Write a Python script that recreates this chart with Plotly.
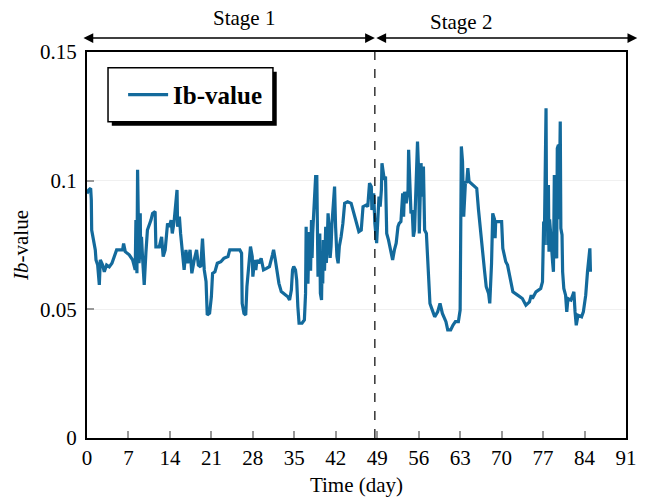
import plotly.graph_objects as go

days = [0.0, 0.28, 0.62, 0.73, 0.79, 1.07, 1.40, 1.52, 1.80, 2.08, 2.25, 2.64, 2.92, 3.31, 3.76, 4.21, 4.61, 5.00,
        6.01, 6.18, 6.46, 7.13, 7.70, 8.14, 8.26, 8.34, 8.43, 8.54, 8.62, 8.71, 8.78, 8.85, 8.92, 8.99, 9.05, 9.20,
        9.40, 9.66, 9.94, 10.2, 10.8,
        11.07, 11.5, 11.63, 12.2, 12.6, 12.86, 13.2, 13.6, 13.9, 14.2, 14.4, 14.7, 15.0, 15.2, 15.3, 15.6, 15.8,
        16.1, 16.4, 16.7, 17.0, 17.4, 17.7, 18.1, 18.5, 18.8, 19.2, 19.5, 19.8, 20.1, 20.2, 20.3, 20.7, 21.0, 21.2,
        21.6, 22.0, 22.6, 23.1, 23.8, 24.1, 25.8, 26.1, 26.2, 26.5, 26.8, 27.0, 27.4, 27.6, 27.9, 28.0, 28.3, 28.5,
        28.7, 29.0, 29.4, 29.8, 30.3, 30.8, 31.3, 31.5, 31.8, 32.1, 32.4, 32.8, 33.4, 33.9, 34.2, 34.5, 34.7, 34.9,
        35.2, 35.4, 35.6, 35.8, 36.3, 36.7, 36.9, 37.0, 37.1, 37.2, 37.3, 37.4, 37.5, 37.6, 37.75, 37.9, 38.0, 38.1,
        38.25, 38.4, 38.6, 38.8, 38.9, 39.0,
        39.1, 39.3, 39.4, 39.6, 39.7, 39.8, 39.9, 40.1, 40.3, 40.4, 40.5, 40.7, 40.9, 41.05, 41.2, 41.35, 41.5, 41.8,
        41.97, 42.2, 42.4, 42.6, 42.9,
        43.2, 43.5, 44.0, 44.6, 44.9, 45.4, 45.9, 46.3, 46.6, 47.1, 47.4, 47.7, 48.0, 48.1, 48.4, 48.6, 48.8, 48.9,
        49.1, 49.3, 49.5, 49.7, 49.8, 50.0, 50.2, 50.4, 50.5, 50.6, 50.9, 51.3, 51.6, 51.9, 52.2, 52.5, 52.7, 53.0,
        53.3, 53.45, 53.6, 53.9, 54.2, 54.3, 54.5, 54.7, 54.9, 55.1, 55.3, 55.6, 55.8, 56.0, 56.1, 56.4, 56.6, 56.8,
        57.0,
        57.3, 57.5, 57.7, 57.9, 58.3, 58.7, 59.2, 59.6, 60.0, 60.3, 60.6, 60.9, 61.4, 61.8, 62.2, 62.7, 63.0, 63.2,
        63.4, 63.6, 63.9, 64.1, 64.3, 64.5, 64.8, 65.4, 65.8, 66.1, 66.5, 66.8, 67.1, 67.4, 67.8, 68.0, 68.3, 68.5,
        68.8, 68.9, 69.0, 69.6, 70.0, 70.2, 70.7, 71.0, 71.3, 71.6, 71.9, 72.7, 73.5, 74.1, 74.7, 75.0, 75.2, 75.8,
        76.6, 76.9, 77.1, 77.2, 77.4, 77.5, 77.6, 77.7, 77.8, 77.9, 78.0, 78.1, 78.3, 78.45, 78.6, 78.75, 78.9, 79.1,
        79.3, 79.4, 79.6, 79.7, 79.9,
        80.0, 80.2, 80.3, 80.5, 80.8, 81.0, 81.2, 81.7, 82.0, 82.2, 82.4, 82.6, 82.9, 83.5, 83.8, 84.2, 84.5, 84.7,
        84.9, 85.0]

ib_value = [0.0950, 0.0964, 0.0970, 0.0925, 0.0808, 0.0770, 0.0731, 0.0692, 0.0672, 0.0595, 0.0692, 0.0672, 0.0646,
            0.0672, 0.0665, 0.0679, 0.0705, 0.0731, 0.0731, 0.0756, 0.0724, 0.0712, 0.0692, 0.0653, 0.0847, 0.0700,
            0.0640, 0.1042, 0.0780, 0.0860, 0.0680, 0.0700, 0.0850, 0.0873, 0.0720, 0.0782,
            0.0692, 0.0595, 0.0718, 0.0808, 0.0847, 0.0873, 0.0880, 0.0743,
            0.0743, 0.0782, 0.0705, 0.0731, 0.0834, 0.0821, 0.0847, 0.0795, 0.0840, 0.0912, 0.0964, 0.0821, 0.0860,
            0.0795, 0.0705, 0.0653, 0.0731, 0.0679, 0.0731, 0.0640, 0.0692, 0.0731, 0.0672, 0.0665, 0.0775, 0.0653,
            0.0608, 0.0523, 0.0478, 0.0485, 0.0549, 0.0640, 0.0646, 0.0679, 0.0685, 0.0698, 0.0705, 0.0731, 0.0731,
            0.0718, 0.0523, 0.0484, 0.0478, 0.0588, 0.0718, 0.0744, 0.0705, 0.0627, 0.0692, 0.0653, 0.0692, 0.0679,
            0.0698, 0.0653, 0.0659, 0.0666, 0.0711, 0.0731, 0.0692, 0.0640, 0.0601, 0.0569, 0.0556, 0.0549, 0.0536,
            0.0575, 0.0653, 0.0666, 0.0653, 0.0614, 0.0510, 0.0446, 0.0446, 0.0459, 0.0562, 0.0821, 0.0620, 0.0769,
            0.0600, 0.0666, 0.0800, 0.0757, 0.0650, 0.0847, 0.0700, 0.0795, 0.0880, 0.0951, 0.1016, 0.1016, 0.0821,
            0.0627,
            0.0692, 0.0795, 0.0562, 0.0536, 0.0692, 0.0600, 0.0769, 0.0650, 0.0821, 0.0680, 0.0718, 0.0873, 0.0808,
            0.0700, 0.0744, 0.0830, 0.0886, 0.0977, 0.0821, 0.0705, 0.0679, 0.0744, 0.0782,
            0.0834, 0.0912, 0.0918, 0.0912, 0.0886, 0.0834, 0.0802, 0.0808, 0.0899, 0.0905, 0.0899, 0.0990, 0.0977,
            0.0886, 0.0951, 0.0834, 0.0782, 0.0757, 0.0847, 0.0938, 0.0899, 0.0964, 0.1068, 0.1042, 0.1003, 0.1016,
            0.0860, 0.0795, 0.0770, 0.0718, 0.0692, 0.0731, 0.0757, 0.0821, 0.0834, 0.0841, 0.0951, 0.0860, 0.0957,
            0.0912, 0.0964, 0.1120, 0.0990, 0.0873, 0.0886, 0.0782, 0.0808, 0.1068, 0.1152, 0.1029, 0.0795, 0.1068,
            0.0938, 0.1055, 0.0808, 0.0795, 0.0679, 0.0575, 0.0523, 0.0497, 0.0471, 0.0490, 0.0523, 0.0484, 0.0471,
            0.0452,
            0.0420, 0.0420, 0.0439, 0.0452, 0.0452, 0.0497, 0.1133, 0.1075, 0.0860, 0.0997, 0.0990, 0.1049, 0.0997,
            0.0990, 0.0977, 0.0970, 0.0886, 0.0782, 0.0705, 0.0653, 0.0588, 0.0562, 0.0523, 0.0679, 0.0873, 0.0850,
            0.0776, 0.0841, 0.0841, 0.0841, 0.0737, 0.0685, 0.0672, 0.0633, 0.0607, 0.0568, 0.0555, 0.0542, 0.0516,
            0.0529, 0.0555, 0.0542, 0.0568, 0.0581, 0.0607, 0.0841, 0.0750, 0.1204, 0.1281, 0.0815, 0.0950, 0.0750,
            0.0983, 0.0724, 0.0850, 0.0789, 0.0720, 0.0685, 0.0646, 0.1022, 0.0789, 0.0698, 0.1126, 0.1139, 0.0850,
            0.1230, 0.0815, 0.0789, 0.0646, 0.0581,
            0.0555, 0.0490, 0.0542, 0.0536, 0.0555, 0.0568, 0.0490, 0.0438, 0.0477, 0.0471, 0.0490, 0.0555, 0.0646,
            0.0711, 0.0737, 0.0646]

x_ticks = [0, 7, 14, 21, 28, 35, 42, 49, 56, 63, 70, 77, 84, 91]
y_ticks = [0, 0.05, 0.1, 0.15]
y_tick_text = ["0", "0.05", "0.1", "0.15"]
stage_split = 48.6
stage_labels = ["Stage 1", "Stage 2"]

SERIF = "Liberation Serif"
LINE_COLOR = "#136a9c"

fig = go.Figure()
fig.add_trace(go.Scatter(x=days, y=ib_value, mode="lines", name="<b>Ib-value</b>",
                         line=dict(color=LINE_COLOR, width=3.2)))

fig.update_layout(
    width=645, height=498,
    margin=dict(l=87, r=19, t=52, b=60),
    paper_bgcolor="white", plot_bgcolor="white",
    font=dict(family=SERIF, size=21, color="black"),
    showlegend=True,
    legend=dict(x=0.067, y=0.889, xanchor="left", yanchor="middle",
                bgcolor="rgba(0,0,0,0)", borderwidth=0,
                font=dict(family=SERIF, size=25, color="black"), itemwidth=40),
)
fig.update_xaxes(range=[0, 91], tickvals=x_ticks, ticks="inside", ticklen=7, tickwidth=1.5,
                 tickcolor="#999999", showline=True, linecolor="black", linewidth=2, mirror=True,
                 showgrid=False, zeroline=False, tickfont=dict(size=21), automargin=False,
                 title=dict(text="Time (day)", font=dict(size=21), standoff=8))
fig.update_yaxes(range=[0, 0.15], tickvals=y_ticks, ticktext=y_tick_text,
                 ticks="inside", ticklen=7, tickwidth=1.5, tickcolor="#999999",
                 showline=True, linecolor="black", linewidth=2, mirror=True, ticklabelstandoff=4,
                 showgrid=True, gridcolor="#f0f0f0", zeroline=False, tickfont=dict(size=21),
                 automargin=False,
                 title=dict(text="<i>Ib</i>-value", font=dict(size=21), standoff=6))

# legend box with shadow
lx0, lx1, ly0, ly1 = 0.039, 0.345, 0.819, 0.959
fig.add_shape(type="rect", xref="paper", yref="paper", x0=lx0 + 0.007, x1=lx1 + 0.007,
              y0=ly0 - 0.010, y1=ly1 - 0.010, fillcolor="black", line=dict(width=0), layer="above")
fig.add_shape(type="rect", xref="paper", yref="paper", x0=lx0, x1=lx1, y0=ly0, y1=ly1,
              fillcolor="white", line=dict(color="black", width=1.5), layer="above")

# stage divider
fig.add_shape(type="line", xref="x", yref="paper", x0=stage_split, x1=stage_split, y0=0, y1=1,
              line=dict(color="black", width=1.2, dash="dash"))

# stage arrows
arrow_y = 1.036
for a, b in [(-0.85, stage_split), (stage_split, 92.9)]:
    fig.add_annotation(xref="x", yref="paper", x=b, y=arrow_y, axref="x", ax=a, ayref="pixel", ay=0,
                       text="", showarrow=True, arrowhead=2, arrowsize=1.3, arrowwidth=1.5,
                       arrowside="start+end", arrowcolor="black")

fig.add_annotation(xref="x", yref="paper", x=26.5, y=1.088, yanchor="middle", text=stage_labels[0],
                   showarrow=False, font=dict(family=SERIF, size=21))
fig.add_annotation(xref="x", yref="paper", x=63.2, y=1.078, yanchor="middle", text=stage_labels[1],
                   showarrow=False, font=dict(family=SERIF, size=21))

fig.write_html("out.html")
